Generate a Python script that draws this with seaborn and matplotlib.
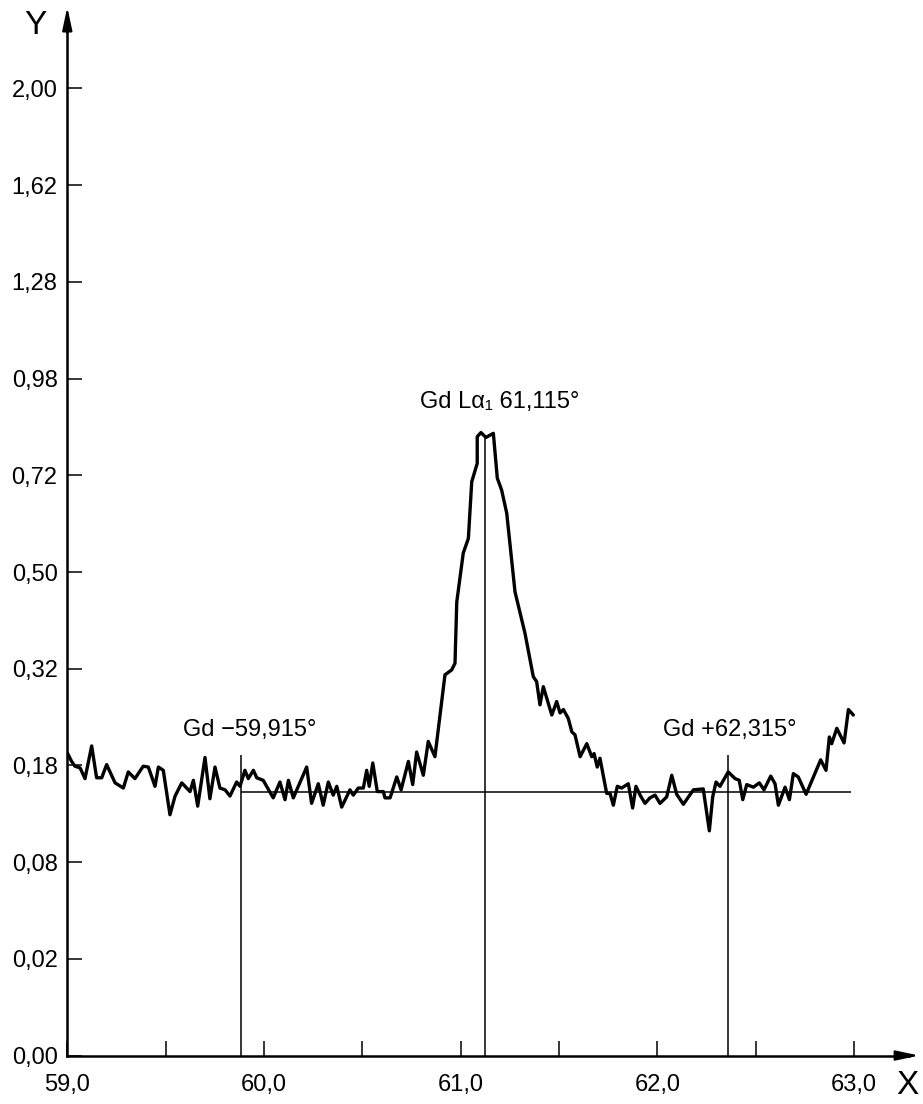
import matplotlib
matplotlib.use("Agg")
import matplotlib.pyplot as plt
import numpy as np
import pandas as pd
import seaborn as sns

# spectrum (angle in degrees, intensity)
angle = [
    59.000, 59.022, 59.039, 59.065, 59.090, 59.124, 59.149, 59.175, 59.200, 59.243,
    59.285, 59.310, 59.344, 59.386, 59.412, 59.446, 59.463, 59.488, 59.522, 59.548,
    59.582, 59.624, 59.641, 59.663, 59.700, 59.725, 59.751, 59.776, 59.802, 59.827,
    59.861, 59.878, 59.903, 59.920, 59.946, 59.963, 59.996, 60.047, 60.081, 60.107,
    60.124, 60.149, 60.217, 60.242, 60.276, 60.301, 60.327, 60.352, 60.370, 60.395,
    60.437, 60.454, 60.479, 60.505, 60.522, 60.535, 60.553, 60.576, 60.607, 60.615,
    60.641, 60.675, 60.697, 60.734, 60.756, 60.776, 60.810, 60.835, 60.869, 60.920,
    60.954, 60.971, 60.980, 61.013, 61.039, 61.056, 61.084, 61.084, 61.103, 61.128,
    61.166, 61.186, 61.208, 61.234, 61.276, 61.327, 61.369, 61.386, 61.403, 61.420,
    61.463, 61.488, 61.505, 61.522, 61.547, 61.565, 61.581, 61.607, 61.641, 61.666,
    61.678, 61.694, 61.708, 61.742, 61.759, 61.776, 61.796, 61.818, 61.852, 61.874,
    61.891, 61.912, 61.937, 61.962, 61.988, 62.013, 62.047, 62.073, 62.098, 62.132,
    62.183, 62.233, 62.264, 62.281, 62.298, 62.318, 62.360, 62.395, 62.416, 62.434,
    62.454, 62.488, 62.518, 62.542, 62.576, 62.598, 62.615, 62.649, 62.671, 62.691,
    62.716, 62.756, 62.793, 62.830, 62.857, 62.874, 62.886, 62.912, 62.949, 62.971,
    62.996,
]
intensity = [
    0.196, 0.185, 0.179, 0.177, 0.164, 0.205, 0.165, 0.165, 0.181, 0.159,
    0.153, 0.172, 0.164, 0.179, 0.178, 0.155, 0.178, 0.174, 0.124, 0.144,
    0.159, 0.149, 0.162, 0.133, 0.190, 0.141, 0.178, 0.153, 0.151, 0.144,
    0.160, 0.155, 0.174, 0.164, 0.174, 0.165, 0.162, 0.142, 0.160, 0.140,
    0.162, 0.142, 0.178, 0.136, 0.158, 0.134, 0.160, 0.145, 0.155, 0.132,
    0.151, 0.145, 0.153, 0.153, 0.174, 0.155, 0.183, 0.149, 0.149, 0.142,
    0.142, 0.166, 0.151, 0.185, 0.157, 0.197, 0.168, 0.211, 0.191, 0.310,
    0.318, 0.329, 0.440, 0.540, 0.572, 0.704, 0.750, 0.819, 0.830, 0.817,
    0.828, 0.713, 0.684, 0.629, 0.460, 0.381, 0.307, 0.299, 0.263, 0.291,
    0.248, 0.268, 0.251, 0.256, 0.243, 0.224, 0.220, 0.191, 0.208, 0.191,
    0.195, 0.178, 0.189, 0.147, 0.147, 0.134, 0.155, 0.153, 0.158, 0.131,
    0.155, 0.145, 0.136, 0.142, 0.145, 0.136, 0.143, 0.168, 0.146, 0.135,
    0.151, 0.152, 0.108, 0.143, 0.160, 0.155, 0.172, 0.164, 0.162, 0.140,
    0.157, 0.154, 0.159, 0.151, 0.167, 0.158, 0.134, 0.154, 0.140, 0.170,
    0.166, 0.146, 0.166, 0.187, 0.174, 0.217, 0.208, 0.229, 0.209, 0.256,
    0.248,
]

y_ticks = [0.00, 0.02, 0.08, 0.18, 0.32, 0.50, 0.72, 0.98, 1.28, 1.62, 2.00]
x_ticks = [59.0, 60.0, 61.0, 62.0, 63.0]
x_minor = [59.5, 60.5, 61.5, 62.5]

# marker lines: positions as drawn, their top ends, and the background level
peak_x = [59.883, 61.126, 62.36]
peak_top = [0.193, 0.816, 0.193]
peak_names = ["Gd −59,915°", "Gd Lα₁ 61,115°", "Gd +62,315°"]
background = 0.148
background_end = 62.985

sns.set_theme(style="white")
plt.rcParams["font.family"] = ["Liberation Sans", "DejaVu Sans"]
plt.rcParams["text.color"] = "black"
plt.rcParams["xtick.color"] = "black"
plt.rcParams["ytick.color"] = "black"

fig = plt.figure(figsize=(9.23, 11.04), dpi=100)
ax = fig.add_axes([0.0729, 0.0439, 0.9228, 0.9497])

df = pd.DataFrame({"angle": angle, "intensity": intensity})
sns.lineplot(data=df, x="angle", y="intensity", estimator=None, sort=False,
             color="black", lw=2.4, ax=ax)

ax.set_yscale("function", functions=(lambda v: np.sqrt(np.clip(v, 0, None)), np.square))
ax.set_xlim(59, 63.33)
ax.set_ylim(0, 2.351)

ax.vlines(peak_x, 0, peak_top, color="black", lw=1.1)
ax.hlines(background, peak_x[0], background_end, color="black", lw=1.1)

ax.text(59.929, 0.2266, peak_names[0], ha="center", va="center", fontsize=17)
ax.text(61.200, 0.9134, peak_names[1], ha="center", va="center", fontsize=17)
ax.text(62.369, 0.2266, peak_names[2], ha="center", va="center", fontsize=17)

ax.set_yticks(y_ticks)
ax.set_yticklabels([f"{v:.2f}".replace(".", ",") for v in y_ticks])
ax.set_xticks(x_ticks)
ax.set_xticklabels([f"{v:.1f}".replace(".", ",") for v in x_ticks])
ax.set_xticks(x_minor, minor=True)
ax.tick_params(axis="both", which="both", direction="in", length=10.8, width=1.1,
               bottom=True, left=True, labelsize=17)
ax.tick_params(axis="y", pad=7)
ax.tick_params(axis="x", pad=13)
ax.set_xlabel("")
ax.set_ylabel("")

for side in ["top", "right"]:
    ax.spines[side].set_visible(False)
for side in ["left", "bottom"]:
    ax.spines[side].set_linewidth(1.8)
    ax.spines[side].set_color("black")
ax.spines["bottom"].set_bounds(59, 63.28)
ax.spines["left"].set_bounds(0, 2.29)

arrow = dict(arrowstyle="-|>,head_length=1.4,head_width=0.3", color="black",
             lw=1.5, mutation_scale=10, shrinkA=0, shrinkB=0)
ax.annotate("", xy=(1, 0), xycoords="axes fraction", xytext=(0.975, 0),
            arrowprops=arrow, annotation_clip=False)
ax.annotate("", xy=(0, 1), xycoords="axes fraction", xytext=(0, 0.975),
            arrowprops=arrow, annotation_clip=False)

fig.text(35 / 923, 1 - 25 / 1104, "Y", fontsize=24, ha="center", va="center")
fig.text(907 / 923, 1 - 1085 / 1104, "X", fontsize=24, ha="center", va="center")

fig.savefig("out.png", dpi=100)
